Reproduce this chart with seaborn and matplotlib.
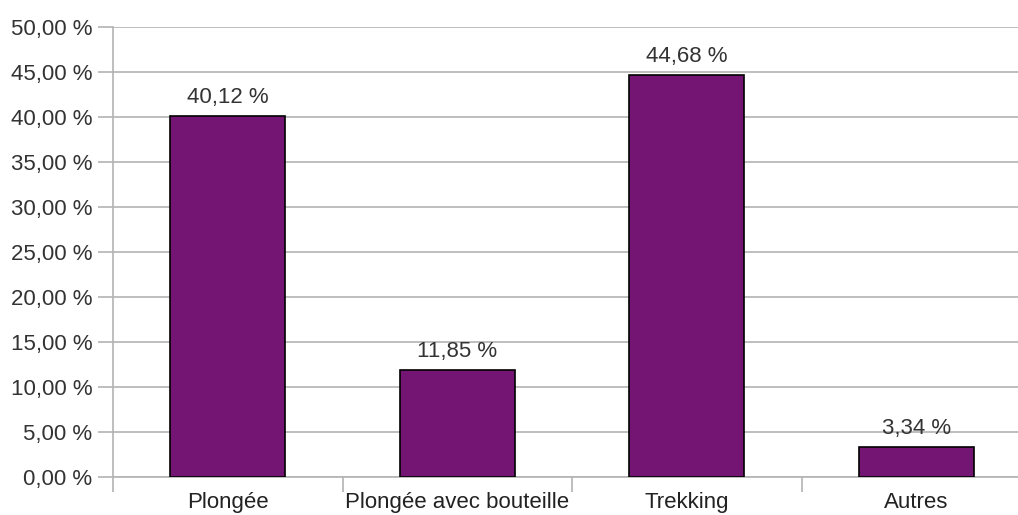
import matplotlib
matplotlib.use("Agg")
import matplotlib.pyplot as plt
import seaborn as sns
import pandas as pd
from matplotlib.ticker import FixedLocator

categories = ["Plongée", "Plongée avec bouteille", "Trekking", "Autres"]
values = [40.12, 11.85, 44.68, 3.34]
y_ticks = [0, 5, 10, 15, 20, 25, 30, 35, 40, 45, 50]

df = pd.DataFrame({"cat": categories, "val": values})

sns.set_style("white")
plt.rcParams['font.family'] = ['Liberation Sans', 'DejaVu Sans']

grey = "#b3b3b3"
fs = 16
fig = plt.figure(figsize=(10.18, 5.15), dpi=100)
ax = fig.add_axes([113 / 1018, 38 / 515, 918 / 1018, 450 / 515])

sns.barplot(data=df, x="cat", y="val", color="#751573", saturation=1,
            width=0.5, edgecolor="black", linewidth=1.2, ax=ax, zorder=3)

def fmt(v):
    return f"{v:.2f}".replace(".", ",") + " %"

for i, v in enumerate(values):
    ax.text(i, v + 0.9, fmt(v), ha="center", va="bottom", fontsize=fs, color="#333333")

ax.set_xlim(-0.5, 3.5)
ax.set_ylim(0, 50)
ax.set_yticks(y_ticks)
ax.set_yticklabels([fmt(t) for t in y_ticks], fontsize=fs, color="#333333")
ax.yaxis.grid(True, color=grey, linewidth=1.2, zorder=0)
ax.set_axisbelow(True)
ax.tick_params(axis="y", length=11, width=1.2, color=grey, left=True, pad=4)

ax.tick_params(axis="x", which="major", length=0, labelsize=fs, labelcolor="#222222", pad=11)
ax.xaxis.set_minor_locator(FixedLocator([-0.5, 0.5, 1.5, 2.5]))
ax.tick_params(axis="x", which="minor", length=11, width=1.2, color=grey, bottom=True)
ax.set_xlabel("")
ax.set_ylabel("")

for s in ["top", "right"]:
    ax.spines[s].set_visible(False)
ax.spines["left"].set_color(grey)
ax.spines["left"].set_linewidth(1.2)
ax.spines["bottom"].set_color(grey)
ax.spines["bottom"].set_linewidth(1.2)

fig.savefig("out.png", dpi=100)
